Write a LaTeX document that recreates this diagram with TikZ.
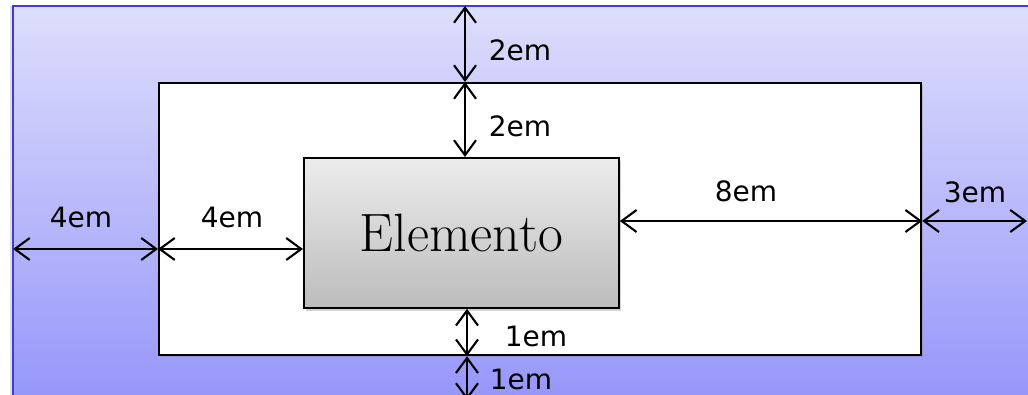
\documentclass[tikz,border=0pt]{standalone}
\usepackage{fontspec}
\newfontfamily\labelfont{DejaVu Sans}
\usetikzlibrary{arrows.meta,shadows}
\definecolor{outertop}{RGB}{222,222,252}
\definecolor{outerbot}{RGB}{150,150,250}
\definecolor{outerline}{RGB}{60,60,225}
\definecolor{elemtop}{RGB}{236,236,236}
\definecolor{elembot}{RGB}{188,188,188}
\tikzset{
  dimline/.style={line width=2.1pt, {Straight Barb[length=15pt,width=22pt,line width=2.1pt]}-{Straight Barb[length=15pt,width=22pt,line width=2.1pt]}},
  dimlabel/.style={font=\labelfont\fontsize{28}{30}\selectfont, inner sep=0pt},
  innerbox/.style={draw=black, line width=2.2pt, fill=white, inner sep=0pt, anchor=north west,
    drop shadow={shadow xshift=2pt, shadow yshift=-2pt, opacity=0.35}},
  elembox/.style={draw=black, line width=1.8pt, top color=elemtop, bottom color=elembot, inner sep=0pt, anchor=north west,
    drop shadow={shadow xshift=2pt, shadow yshift=-3pt, opacity=0.35}},
}
\begin{document}
\begin{tikzpicture}[x=1pt,y=-1pt]
\useasboundingbox (0,0) rectangle (1028,394);
\clip (0,0) rectangle (1028,394);
% outer area
\fill[black, opacity=0.12] (10,6) rectangle (13,400);
\shade[top color=outertop, bottom color=outerbot] (13,6) rectangle (1040,400);
\draw[outerline, line width=2pt] (13,400) -- (13,6) -- (1040,6);
% boxes
\node[innerbox, minimum width=762pt, minimum height=272pt] (inner) at (158,82) {};
\node[elembox, minimum width=315pt, minimum height=150pt] (elem) at (303,157) {};
\node (elemtext) at (elem.center) {\fontsize{54}{60}\selectfont Elemento};
% named free ends
\coordinate (otop) at (465,6);
\coordinate (bx) at (467,0);
\coordinate (obot) at (467,400);
\coordinate (oleft) at (13,249);
\coordinate (ry) at (0,221);
\coordinate (oright) at (1027,221);
% vertical dimensions
\draw[dimline] (otop) -- (otop |- inner.north);
\draw[dimline] (otop |- inner.north) -- (otop |- elem.north);
\draw[dimline] (bx |- elem.south) -- (bx |- inner.south);
\draw[dimline] (bx |- inner.south) -- (obot);
% horizontal dimensions
\draw[dimline] (oleft) -- (oleft -| inner.west);
\draw[dimline] (oleft -| inner.west) -- (oleft -| elem.west);
\draw[dimline] (elem.east |- ry) -- (inner.east |- ry);
\draw[dimline] (inner.east |- ry) -- (oright);
% labels
\node[dimlabel] (l1) at (520,50) {2em};
\node[dimlabel] (l2) at (520,126) {2em};
\node[dimlabel] (l3) at (536,336) {1em};
\node[dimlabel] (l4) at (521,379) {1em};
\node[dimlabel] (l5) at (81,217) {4em};
\node[dimlabel] (l6) at (232,217) {4em};
\node[dimlabel] (l7) at (746,191) {8em};
\node[dimlabel] (l8) at (975,192) {3em};
\end{tikzpicture}
\end{document}
